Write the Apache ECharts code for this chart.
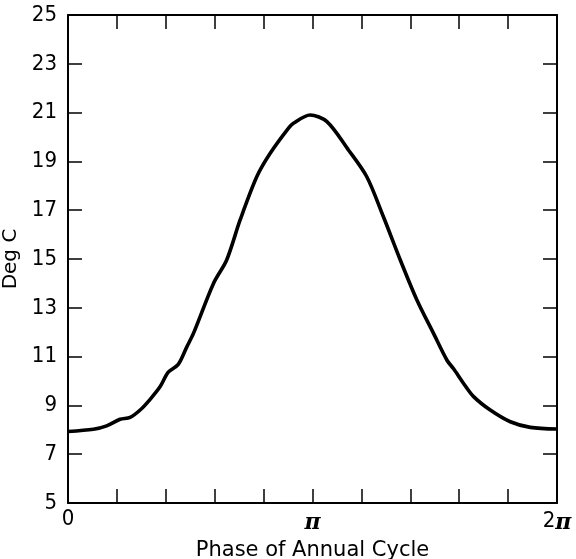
<!DOCTYPE html>
<html>
<head>
<meta charset="utf-8">
<script src="https://cdn.jsdelivr.net/npm/echarts@6/dist/echarts.min.js"></script>
<style>html,body{margin:0;padding:0;background:#fff}#c{width:576px;height:559px}</style>
</head>
<body>
<div id="c"></div>
<script>
// phase in units of pi
const phase = [0.0, 0.104, 0.158, 0.213, 0.254, 0.295, 0.336, 0.377, 0.410, 0.451, 0.486, 0.513, 0.595, 0.649, 0.704, 0.772, 0.827, 0.902, 0.922, 0.990, 1.059, 1.147, 1.222, 1.290, 1.359, 1.427, 1.495, 1.550, 1.577, 1.618, 1.659, 1.727, 1.809, 1.891, 2.0];
const degC = [7.93, 8.02, 8.16, 8.43, 8.51, 8.81, 9.25, 9.77, 10.36, 10.68, 11.4, 11.95, 14.0, 14.96, 16.6, 18.37, 19.33, 20.36, 20.56, 20.9, 20.63, 19.47, 18.37, 16.73, 14.96, 13.32, 11.95, 10.85, 10.5, 9.9, 9.36, 8.81, 8.33, 8.1, 8.03];
const yTicks = [5, 7, 9, 11, 13, 15, 17, 19, 21, 23, 25];

const chart = echarts.init(document.getElementById('c'));
const font = '"DejaVu Sans Condensed", "DejaVu Sans", sans-serif';
const mkLine = () => ({show: true, onZero: false, lineStyle: {color: '#000', width: 2}});
const mkTick = () => ({show: true, inside: true, length: 14, lineStyle: {color: '#000', width: 1.5}});
const data = phase.map((p, i) => [p, degC[i]]);
chart.setOption({
  animation: false,
  grid: {left: 68, right: 19, top: 15, bottom: 56, containLabel: false, outerBoundsMode: 'none'},
  xAxis: [{
    type: 'value', min: 0, max: 2, interval: 0.2, position: 'bottom',
    axisLine: mkLine(), axisTick: mkTick(), splitLine: {show: false},
    name: 'Phase of Annual Cycle', nameLocation: 'middle', nameGap: 37,
    nameTextStyle: {fontFamily: '"DejaVu Sans", sans-serif', fontSize: 21, color: '#000'},
    axisLabel: {
      margin: 5, color: '#000', fontFamily: font, fontSize: 22,
      formatter: v => Math.abs(v) < 1e-6 ? '0' : Math.abs(v - 1) < 1e-6 ? '{i|π}' : Math.abs(v - 2) < 1e-6 ? '2{i|π}' : '',
      rich: {i: {fontStyle: 'italic', fontWeight: 'bold', fontSize: 22, fontFamily: '"DejaVu Serif", serif', color: '#000', padding: [4, 0, 0, 0]}}
    }
  }, {
    type: 'value', min: 0, max: 2, interval: 0.2, position: 'top',
    axisLine: mkLine(), axisTick: mkTick(), axisLabel: {show: false}, splitLine: {show: false}
  }],
  yAxis: [{
    type: 'value', min: 5, max: 25, interval: 2, position: 'left',
    axisLine: mkLine(), axisTick: mkTick(), splitLine: {show: false},
    name: 'Deg C', nameLocation: 'middle', nameGap: 44, nameRotate: 90,
    nameTextStyle: {fontFamily: '"DejaVu Sans", sans-serif', fontSize: 20, color: '#000'},
    axisLabel: {margin: 11, color: '#000', fontFamily: font, fontSize: 22,
      formatter: v => yTicks.includes(Math.round(v)) ? String(Math.round(v)) : ''}
  }, {
    type: 'value', min: 5, max: 25, interval: 2, position: 'right',
    axisLine: mkLine(), axisTick: mkTick(), axisLabel: {show: false}, splitLine: {show: false}
  }],
  series: [{
    type: 'line', data, smooth: 0.3, symbol: 'none',
    lineStyle: {color: '#000', width: 3.6}
  }]
});
</script>
</body>
</html>
